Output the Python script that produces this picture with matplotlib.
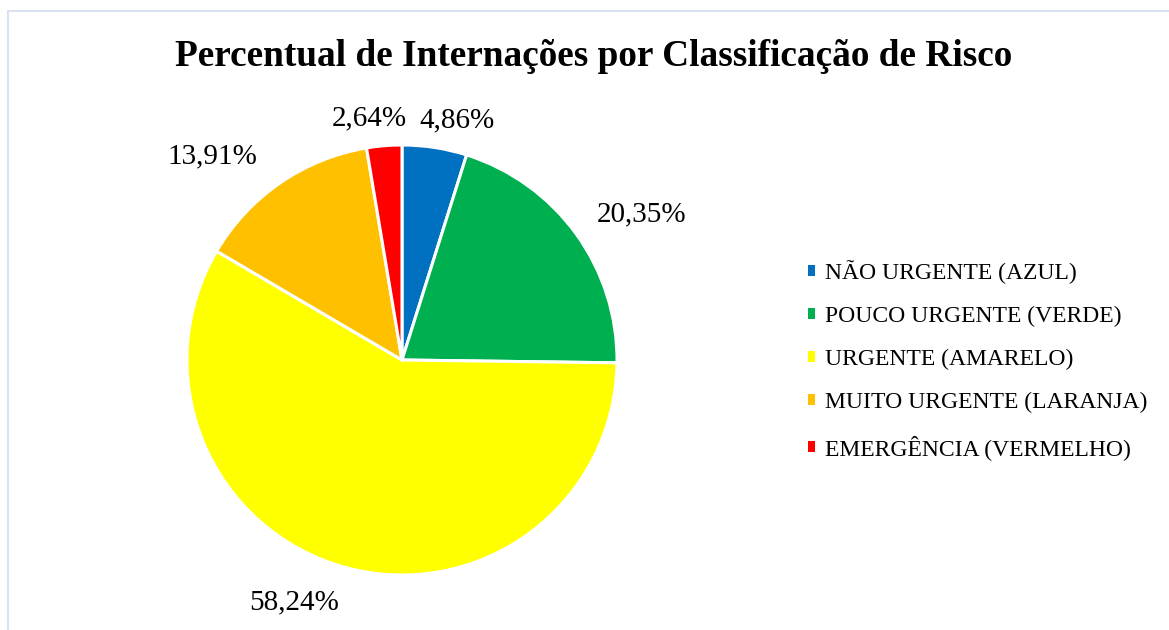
import numpy as np
import matplotlib
matplotlib.use('Agg')
from matplotlib import pyplot as plt
from matplotlib.patches import Rectangle

# data
categories = ['NÃO URGENTE (AZUL)', 'POUCO URGENTE (VERDE)', 'URGENTE (AMARELO)',
              'MUITO URGENTE (LARANJA)', 'EMERGÊNCIA (VERMELHO)']
percentages = [4.86, 20.35, 58.24, 13.91, 2.64]
colors = ['#0070C0', '#00B050', '#FFFF00', '#FFC000', '#FF0000']
title = 'Percentual de Internações por Classificação de Risco'

plt.rcParams['font.family'] = ['Liberation Serif', 'DejaVu Serif']

W, H, DPI = 1169, 630, 100
fig = plt.figure(figsize=(W / DPI, H / DPI), dpi=DPI)

# pie geometry (pixels)
cx, cy, R = 402, 360, 215
ax = fig.add_axes([0, 0, 1, 1])
wedges, _ = ax.pie(percentages, colors=colors, startangle=90, counterclock=False,
                   wedgeprops=dict(edgecolor='white', linewidth=2.2))
ax.set_xlim(-cx / R, (W - cx) / R)
ax.set_ylim(-(H - cy) / R, cy / R)
ax.set_aspect('auto')
ax.axis('off')

# label nudges in points (excel pushes top labels apart)
nudge = [(-14, 1.5), (0, 3), (1, -7.5), (-6, 3.5), (18, 1.5)]
for w, p, nd in zip(wedges, percentages, nudge):
    ang = np.deg2rad((w.theta1 + w.theta2) / 2)
    x, y = 1.12 * np.cos(ang), 1.12 * np.sin(ang)
    ha = 'left' if np.cos(ang) > 0 else 'right'
    ax.annotate(('%.2f%%' % p).replace('.', ','), xy=(x, y), xytext=nd,
                textcoords='offset points', ha=ha, va='center', fontsize=21)

fig.text(0.508, 1 - 57 / H, title, ha='center', va='center',
         fontsize=26.8, fontweight='bold')

leg = ax.legend(wedges, categories, loc='center left',
                bbox_to_anchor=(787 / W, 1 - 360 / H), bbox_transform=fig.transFigure,
                frameon=False, fontsize=17, handlelength=0.3, handleheight=0.3,
                handletextpad=0.4, labelspacing=0.93)
for h in leg.legend_handles:
    h.set_edgecolor('none')

fig.patches.append(Rectangle((8 / W, -0.1), 2, (H - 11) / H + 0.1,
                             transform=fig.transFigure, fill=False,
                             edgecolor='#D9E2F0', linewidth=1.5))

plt.savefig('out.png', dpi=DPI)
